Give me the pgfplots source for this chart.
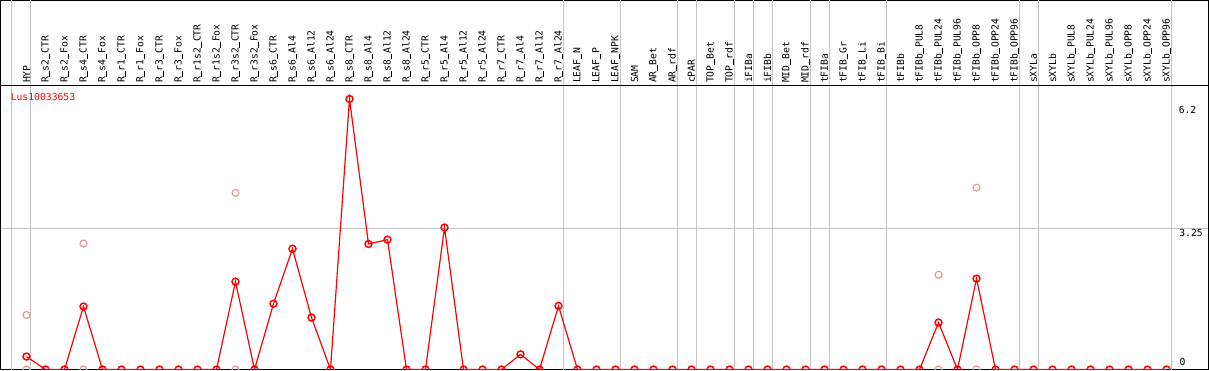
\documentclass[border=0pt]{standalone}
\usepackage{pgfplots}
\pgfplotsset{compat=1.18}
\usepackage{fontspec}
\setmainfont{DejaVu Sans Mono}
\definecolor{gridgray}{RGB}{195,195,195}
\definecolor{lightred}{RGB}{240,150,150}
\newcommand\us{\rule[-0.12em]{0.602em}{0.65pt}}
\begin{document}
\begin{tikzpicture}[font=\fontsize{7.3}{8}\selectfont]
\begin{axis}[
 scale only axis, width=906pt, height=276.75pt,
 xmin=-1.368, xmax=62.21, ymin=0, ymax=8.524,
 axis line style={black, line width=0.75pt},
 clip marker paths=true,
 tick label style={font=\fontsize{7.3}{8}\selectfont},
 xtick={0,...,60},
 xticklabels={HYP,R\us s2\us CTR,R\us s2\us Fox,R\us s4\us CTR,R\us s4\us Fox,R\us r1\us CTR,R\us r1\us Fox,R\us r3\us CTR,R\us r3\us Fox,R\us r1s2\us CTR,R\us r1s2\us Fox,R\us r3s2\us CTR,R\us r3s2\us Fox,R\us s6\us CTR,R\us s6\us Al4,R\us s6\us Al12,R\us s6\us Al24,R\us s8\us CTR,R\us s8\us Al4,R\us s8\us Al12,R\us s8\us Al24,R\us r5\us CTR,R\us r5\us Al4,R\us r5\us Al12,R\us r5\us Al24,R\us r7\us CTR,R\us r7\us Al4,R\us r7\us Al12,R\us r7\us Al24,LEAF\us N,LEAF\us P,LEAF\us NPK,SAM,AR\us Bet,AR\us rdf,cPAR,TOP\us Bet,TOP\us rdf,iFIBa,iFIBb,MID\us Bet,MID\us rdf,tFIBa,tFIB\us Gr,tFIB\us Li,tFIB\us Bi,tFIBb,tFIBb\us PUL8,tFIBb\us PUL24,tFIBb\us PUL96,tFIBb\us OPP8,tFIBb\us OPP24,tFIBb\us OPP96,sXYLa,sXYLb,sXYLb\us PUL8,sXYLb\us PUL24,sXYLb\us PUL96,sXYLb\us OPP8,sXYLb\us OPP24,sXYLb\us OPP96},
 xticklabel pos=upper,
 xticklabel shift=-62pt,
 x tick label style={rotate=90, anchor=west, inner sep=0pt},
 major tick length=0pt,
 extra x ticks={-0.8,0.237,28.237,31.237,34.237,35.237,37.237,38.237,39.237,41.237,42.237,45.237,52.237,53.237,60.237},
 extra x tick labels={},
 extra x tick style={grid=major, major grid style={gridgray, line width=0.75pt}},
 ytick={3.25}, yticklabels={}, ymajorgrids,
 y tick label style={inner sep=0pt},
 major grid style={gridgray, line width=0.75pt},
 extra y ticks={6.56}, extra y tick labels={},
 extra y tick style={grid=major, major grid style={black, line width=0.75pt}},
]
\addplot[only marks, mark=o, mark size=2.6pt, lightred, mark options={line width=0.9pt}] coordinates {
(0,1.26) (0,0) (3,2.91) (3,0) (11,4.08) (11,0) (48,2.19) (48,0) (50,4.20) (50,0)};
\addplot[red, line width=0.9pt, mark=o, mark size=2.6pt, mark options={line width=1.1pt}] coordinates {
(0,0.30) (1,0) (2,0) (3,1.455) (4,0) (5,0) (6,0) (7,0) (8,0) (9,0) (10,0)
(11,2.03) (12,0) (13,1.52) (14,2.79) (15,1.20) (16,0) (17,6.25) (18,2.90) (19,3.00) (20,0)
(21,0) (22,3.28) (23,0) (24,0) (25,0) (26,0.35) (27,0) (28,1.47) (29,0) (30,0)
(31,0) (32,0) (33,0) (34,0) (35,0) (36,0) (37,0) (38,0) (39,0) (40,0)
(41,0) (42,0) (43,0) (44,0) (45,0) (46,0) (47,0) (48,1.085) (49,0) (50,2.10)
(51,0) (52,0) (53,0) (54,0) (55,0) (56,0) (57,0) (58,0) (59,0) (60,0)};
\node[anchor=north west, inner sep=0pt, text=red] at (axis cs:-0.842,6.376) {Lus10033653};
\node[anchor=north west, inner sep=0pt] at (axis cs:60.63,6.098) {6.2};
\node[anchor=north west, inner sep=0pt] at (axis cs:60.66,3.235) {3.25};
\node[anchor=south west, inner sep=0pt] at (axis cs:60.68,0.08) {0};
\end{axis}
\pgfresetboundingbox
\path[use as bounding box] ([shift={(-0.375pt,-0.375pt)}]current axis.south west) rectangle ([shift={(0.375pt,0.375pt)}]current axis.north east);
\end{tikzpicture}
\end{document}
